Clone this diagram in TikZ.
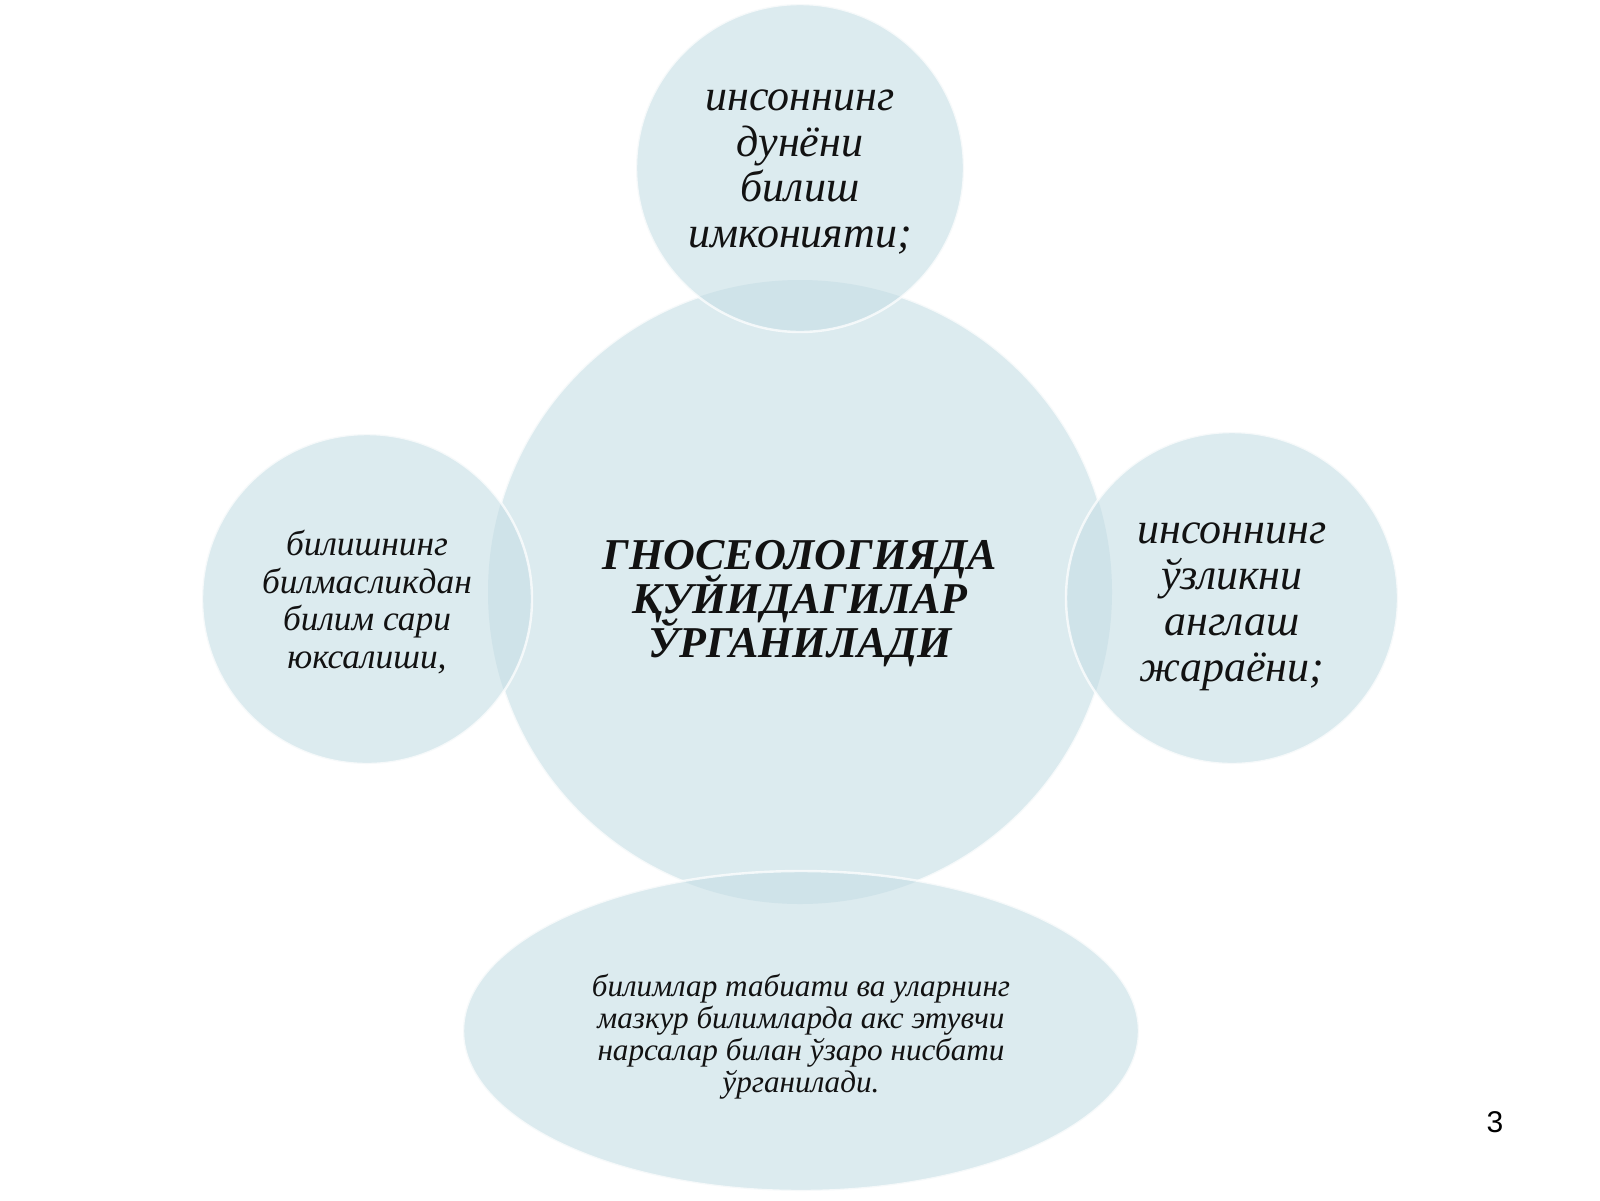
\documentclass[tikz,border=0pt]{standalone}
\usepackage{fontspec}
\setmainfont{Liberation Serif}
\newfontfamily\numfont{Liberation Sans}
\definecolor{cfill}{RGB}{220,235,239}
\definecolor{cdark}{RGB}{207,227,233}
\definecolor{ctext}{RGB}{18,18,18}
\newcommand\mytightlines{\lineskiplimit=-100pt\relax\lineskip=0pt\relax}
\tikzset{
  bubble/.style={fill=cfill},
  rim/.style={draw=white, line width=1.2pt, opacity=0.75},
  txt/.style={align=center, text=ctext, inner sep=0pt, font=\itshape},
}
\begin{document}
\begin{tikzpicture}[x=0.5pt,y=-0.5pt]
\useasboundingbox[fill=white] (0,0) rectangle (1600,1200);
\coordinate (cC) at (800,592);
\coordinate (cT) at (800,168);
\coordinate (cL) at (367,599);
\coordinate (cR) at (1232,598);
\coordinate (cB) at (801,1031);
\fill[bubble] (cC) circle[radius=156pt];
\draw[rim] (cC) circle[radius=156pt];
\fill[bubble] (cT) circle[radius=82pt];
\fill[bubble] (cL) circle[radius=82.5pt];
\fill[bubble] (cR) circle[radius=83pt];
\fill[bubble] (cB) ellipse[x radius=169pt, y radius=80pt];
\begin{scope}
  \clip (cC) circle[radius=156pt];
  \fill[cdark] (cT) circle[radius=82pt];
  \fill[cdark] (cL) circle[radius=82.5pt];
  \fill[cdark] (cR) circle[radius=83pt];
  \fill[cdark] (cB) ellipse[x radius=169pt, y radius=80pt];
\end{scope}
\draw[rim] (cT) circle[radius=82pt];
\draw[rim] (cL) circle[radius=82.5pt];
\draw[rim] (cR) circle[radius=83pt];
\draw[rim] (cB) ellipse[x radius=169pt, y radius=80pt];
% texts
\node[txt, font=\bfseries\itshape\fontsize{22}{22}\selectfont\mytightlines] (main) at (800,604)
  {ГНОСЕОЛОГИЯДА\\ҚУЙИДАГИЛАР\\ЎРГАНИЛАДИ};
\node[txt, font=\itshape\fontsize{22}{22.75}\selectfont] (top) at (800,172)
  {инсоннинг\\дунёни\\билиш\\имконияти;};
\node[txt, font=\itshape\fontsize{17.7}{18.7}\selectfont] (left) at (367,602)
  {билишнинг\\билмасликдан\\билим сари\\юксалиши,};
\node[txt, font=\itshape\fontsize{22}{23}\selectfont] (right) at (1232,607)
  {инсоннинг\\ўзликни\\англаш\\жараёни;};
\node[txt, font=\itshape\fontsize{15.6}{16}\selectfont] (bottom) at (801,1037)
  {билимлар табиати ва уларнинг\\мазкур билимларда акс этувчи\\нарсалар билан ўзаро нисбати\\ўрганилади.};
\node[font=\numfont\fontsize{15}{15}\selectfont] (page) at (1495,1122) {3};
\end{tikzpicture}
\end{document}
